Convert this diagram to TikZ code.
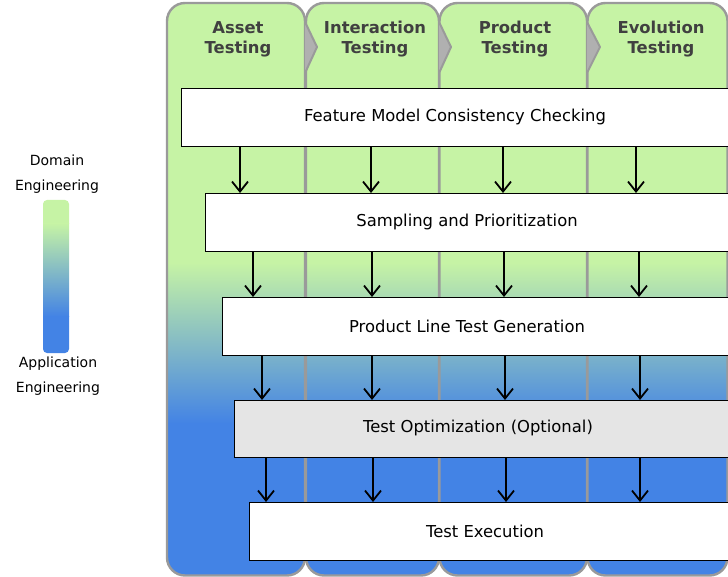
\documentclass[tikz,border=0pt]{standalone}
\usepackage{fontspec}
\setmainfont{DejaVu Sans}
\usetikzlibrary{arrows.meta}

\definecolor{greenC}{HTML}{C6F3A5}
\definecolor{blueC}{HTML}{4383E5}
\definecolor{colborder}{HTML}{9A9A9A}
\definecolor{notchC}{HTML}{B0B0B0}
\definecolor{headC}{HTML}{404040}
\definecolor{optC}{HTML}{E5E5E5}

\tikzset{
  colframe/.style={draw=colborder, line width=2.4pt, rounded corners=18pt},
  stagebox/.style={draw=black, line width=1.2pt, fill=white, anchor=north west, inner sep=0pt},
  stagetext/.style={font=\fontsize{16.4}{19}\selectfont, text=black, inner sep=0pt},
  headtext/.style={font=\fontsize{16.4}{20}\selectfont\bfseries, text=headC, align=center, inner sep=0pt},
  sidetext/.style={font=\fontsize{14}{25}\selectfont, align=center, inner sep=0pt},
  flow/.style={line width=1.8pt, -{Straight Barb[length=10pt,width=16pt]}},
}

% one shaded column: green on top, blue at the bottom
\newcommand{\phasecol}[3]{%
  \begin{scope}
    \clip[rounded corners=18pt] (#1,3) rectangle (#2,575.5);
    \fill[greenC] (#1,0) rectangle (#2,263);
    \shade[top color=greenC, bottom color=blueC] (#1,262.5) rectangle (#2,423.5);
    \fill[blueC] (#1,423) rectangle (#2,580);
  \end{scope}
  \draw[colframe] (#1,3) rectangle (#2,575.5);
  \coordinate (#3) at (#1,3);
}

\begin{document}
\begin{tikzpicture}[x=1pt, y=-1pt]
\useasboundingbox (0,0) rectangle (728,577);

% phase columns
\phasecol{167}{305}{c1}
\phasecol{306}{439}{c2}
\phasecol{439.5}{587}{c3}
\phasecol{587.5}{727.5}{c4}

% chevron notches between phases
\fill[notchC] (305,23) -- (317,47) -- (305,72) -- cycle;
\draw[colborder, line width=2pt, line join=round] (305.5,23) -- (317,47) -- (305.5,72);
\fill[notchC] (439,23) -- (451,47) -- (439,72) -- cycle;
\draw[colborder, line width=2pt, line join=round] (439.5,23) -- (451,47) -- (439.5,72);
\fill[notchC] (587,23) -- (600,47) -- (587,72) -- cycle;
\draw[colborder, line width=2pt, line join=round] (587.5,23) -- (600,47) -- (587.5,72);

% phase titles
\node[headtext] (h1) at (238,39) {Asset\\Testing};
\node[headtext] (h2) at (375,39) {Interaction\\Testing};
\node[headtext] (h3) at (515,39) {Product\\Testing};
\node[headtext] (h4) at (661,39) {Evolution\\Testing};

% process stages
\node[stagebox, minimum width=560pt, minimum height=58pt] (b1) at (181,88) {};
\node[stagebox, minimum width=540pt, minimum height=58pt] (b2) at (205,193) {};
\node[stagebox, minimum width=520pt, minimum height=58pt] (b3) at (222,297) {};
\node[stagebox, minimum width=510pt, minimum height=57pt, fill=optC] (b4) at (234,400) {};
\node[stagebox, minimum width=500pt, minimum height=58pt] (b5) at (249,502) {};

\node[stagetext] (t1) at (455,117) {Feature Model Consistency Checking};
\node[stagetext] (t2) at (467,222) {Sampling and Prioritization};
\node[stagetext] (t3) at (467,326) {Product Line Test Generation};
\node[stagetext] (t4) at (478,428) {Test Optimization (Optional)};
\node[stagetext] (t5) at (485,531) {Test Execution};

% flow between stages
\foreach \x in {240,371,503,636} \draw[flow] (\x,0 |- b1.south) -- (\x,0 |- b2.north);
\foreach \x in {253,372,504,639} \draw[flow] (\x,0 |- b2.south) -- (\x,0 |- b3.north);
\foreach \x in {262,372,505,640} \draw[flow] (\x,0 |- b3.south) -- (\x,0 |- b4.north);
\foreach \x in {266,373,506,640} \draw[flow] (\x,0 |- b4.south) -- (\x,0 |- b5.north);

% legend
\begin{scope}
  \clip[rounded corners=4pt] (43,200) rectangle (69,353);
  \fill[greenC] (40,195) rectangle (72,224);
  \shade[top color=greenC, bottom color=blueC] (40,223.5) rectangle (72,316.5);
  \fill[blueC] (40,316) rectangle (72,356);
\end{scope}
\node[sidetext] (dom) at (57,174) {Domain\\Engineering};
\node[sidetext] (app) at (58,376) {Application\\Engineering};
\end{tikzpicture}
\end{document}
